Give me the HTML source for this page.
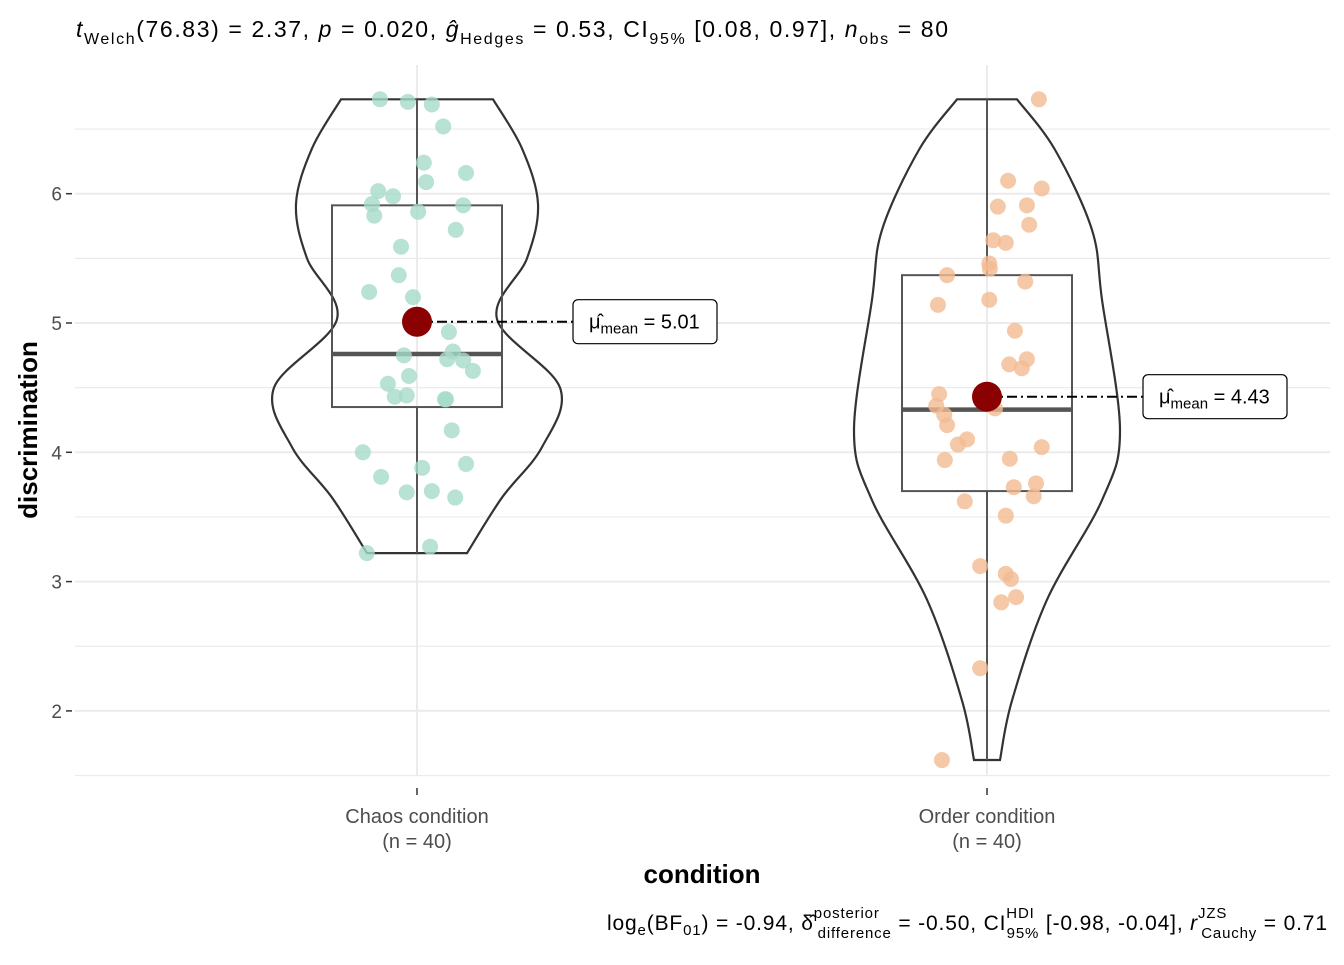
<!DOCTYPE html>
<html><head><meta charset="utf-8"><style>
body{margin:0;background:#fff;font-family:"Liberation Sans",Arial,sans-serif}
svg text{font-family:"Liberation Sans",Arial,sans-serif}
</style></head><body>
<svg id="chart" width="1344" height="960" xmlns="http://www.w3.org/2000/svg">
<text x="76" y="37" font-size="23" fill="#000" textLength="872" lengthAdjust="spacing"><tspan font-style="italic">t</tspan><tspan font-size="16" dy="7">Welch</tspan><tspan dy="-7">(76.83) = 2.37, </tspan><tspan font-style="italic">p</tspan><tspan> = 0.020, </tspan><tspan font-style="italic">ĝ</tspan><tspan font-size="16" dy="7">Hedges</tspan><tspan dy="-7"> = 0.53, CI</tspan><tspan font-size="16" dy="7">95%</tspan><tspan dy="-7"> [0.08, 0.97], </tspan><tspan font-style="italic">n</tspan><tspan font-size="16" dy="7">obs</tspan><tspan dy="-7"> = 80</tspan></text>
<g id="grid"></g>
<g id="marks"></g>
<text x="702" y="883" font-size="26" font-weight="bold" text-anchor="middle">condition</text>
<text transform="translate(37,430) rotate(-90)" font-size="26" font-weight="bold" text-anchor="middle">discrimination</text>
<text x="607" y="930" font-size="21" textLength="720" lengthAdjust="spacing">log<tspan font-size="15" dy="5">e</tspan><tspan dy="-5">(BF</tspan><tspan font-size="15" dy="5">01</tspan><tspan dy="-5">) = -0.94, δ̂</tspan><tspan font-size="15" dy="-12">posterior</tspan><tspan font-size="15" dx="-62" dy="20">difference</tspan><tspan dy="-8"> = -0.50, CI</tspan><tspan font-size="15" dy="-12">HDI</tspan><tspan font-size="15" dx="-28" dy="20">95%</tspan><tspan dy="-8"> [-0.98, -0.04], </tspan><tspan font-style="italic">r</tspan><tspan font-size="15" dy="-12">JZS</tspan><tspan font-size="15" dx="-26" dy="20">Cauchy</tspan><tspan dy="-8"> = 0.71</tspan></text>
</svg>
<script>
const categories=["Chaos condition","Order condition"];
const counts=[40,40];
const yTicks=[2,3,4,5,6];
const chaosVals=[6.73,6.71,6.69,6.52,6.24,6.09,6.16,6.02,5.98,5.92,5.86,5.91,5.83,5.72,5.59,5.37,5.24,5.20,4.93,4.78,4.75,4.72,4.71,4.63,4.59,4.53,4.44,4.43,4.41,4.41,4.17,4.00,3.91,3.81,3.88,3.70,3.69,3.65,3.27,3.22];
const chaosJit=[-0.065,-0.016,0.026,0.046,0.012,0.016,0.086,-0.068,-0.042,-0.079,0.002,0.081,-0.075,0.068,-0.028,-0.032,-0.084,-0.007,0.056,0.063,-0.023,0.053,0.081,0.098,-0.014,-0.051,-0.018,-0.039,0.049,0.051,0.061,-0.095,0.086,-0.063,0.009,0.026,-0.018,0.067,0.023,-0.088];
const orderVals=[6.73,6.10,6.04,5.90,5.91,5.64,5.62,5.76,5.46,5.42,5.37,5.32,5.18,5.14,4.94,4.72,4.68,4.65,4.45,4.36,4.34,4.29,4.21,4.10,4.06,4.04,3.94,3.95,3.73,3.76,3.66,3.62,3.51,3.12,3.06,3.02,2.88,2.84,2.33,1.62];
const orderJit=[0.091,0.037,0.096,0.019,0.070,0.011,0.033,0.074,0.004,0.005,-0.070,0.067,0.004,-0.086,0.049,0.070,0.039,0.061,-0.084,-0.089,0.014,-0.075,-0.070,-0.035,-0.051,0.096,-0.074,0.040,0.047,0.086,0.082,-0.039,0.033,-0.012,0.033,0.042,0.051,0.025,-0.012,-0.079];
const means=[5.01,4.43];
const meanLabels=["5.01","4.43"];
const q1=[4.35,3.70],med=[4.76,4.33],q3=[5.91,5.37],wLo=[3.22,1.62],wHi=[6.73,6.73];
const chaosVy=[6.73,6.35,5.92,5.50,5.03,4.50,4.04,3.65,3.22];
const chaosVw=[76,105,121,110,80,143,125,85,50];
const orderVy=[6.73,6.34,5.72,5.18,4.17,3.63,2.86,2.08,1.62];
const orderVw=[30,68,105,115,133,115,60,25,13];
const NS="http://www.w3.org/2000/svg";
const y=v=>323-(v-5)*129.3;
const x=i=>417+i*570;
const xs=(i,j)=>x(i)+j*570;
const grid=document.getElementById('grid'),marks=document.getElementById('marks');
function mk(tag,a,p){const e=document.createElementNS(NS,tag);for(const k in a)e.setAttribute(k,a[k]);(p||marks).appendChild(e);return e;}
for(let v=1.5;v<=6.5;v+=0.5){const l=mk('line',{x1:75,x2:1330,y1:y(v),y2:y(v),stroke:'#ebebeb','stroke-width':Number.isInteger(v)?2:1.2},grid);
}
categories.forEach((c,i)=>{const l=mk('line',{x1:x(i),x2:x(i),y1:65,y2:776,stroke:'#ebebeb','stroke-width':2},grid);
});
yTicks.forEach(v=>{const t=mk('text',{x:62,y:y(v)+7,'font-size':19,fill:'#4d4d4d','text-anchor':'end'},grid);t.textContent=v;

mk('line',{x1:66,x2:72,y1:y(v),y2:y(v),stroke:'#333','stroke-width':1.5},grid);});
categories.forEach((c,i)=>{mk('line',{x1:x(i),x2:x(i),y1:788,y2:795,stroke:'#333','stroke-width':1.5},grid);
const t=mk('text',{x:x(i),y:823,'font-size':20,fill:'#4d4d4d','text-anchor':'middle'},grid);t.textContent=c;

const t2=mk('text',{x:x(i),y:848,'font-size':20,fill:'#4d4d4d','text-anchor':'middle'},grid);t2.textContent='(n = '+counts[i]+')';
});
function violin(i,vy,vw){let r=[],l=[];for(let k=0;k<vy.length;k++){r.push([x(i)+vw[k],y(vy[k])]);l.push([x(i)-vw[k],y(vy[k])]);}
function curve(arr){let s='';for(let k=0;k<arr.length-1;k++){const p0=arr[k-1]||arr[k],p1=arr[k],p2=arr[k+1],p3=arr[k+2]||p2;
s+=` C${p1[0]+(p2[0]-p0[0])/6},${p1[1]+(p2[1]-p0[1])/6} ${p2[0]-(p3[0]-p1[0])/6},${p2[1]-(p3[1]-p1[1])/6} ${p2[0]},${p2[1]}`;}return s;}
let d='M'+x(i)+','+y(vy[0])+' L'+r[0].join(',')+curve(r)+' L'+l[l.length-1].join(',');
const lr=l.slice().reverse();d+=curve(lr)+' Z';
const p=mk('path',{d:d,fill:'none',stroke:'#333','stroke-width':2.2});}
violin(0,chaosVy,chaosVw);violin(1,orderVy,orderVw);
categories.forEach((c,i)=>{
mk('line',{x1:x(i),x2:x(i),y1:y(wHi[i]),y2:y(q3[i]),stroke:'#555','stroke-width':2});
mk('line',{x1:x(i),x2:x(i),y1:y(q1[i]),y2:y(wLo[i]),stroke:'#555','stroke-width':2});
const b=mk('rect',{x:x(i)-85,y:y(q3[i]),width:170,height:y(q1[i])-y(q3[i]),fill:'none',stroke:'#555','stroke-width':2});

mk('line',{x1:x(i)-85,x2:x(i)+85,y1:y(med[i]),y2:y(med[i]),stroke:'#555','stroke-width':4.5});});
[[chaosVals,chaosJit,'#a6dbc8'],[orderVals,orderJit,'#f2bc92']].forEach(([vals,jit,col],i)=>{vals.forEach((v,k)=>{
const c=mk('circle',{cx:xs(i,jit[k]),cy:y(v),r:8,fill:col,'fill-opacity':0.8});
});});
const lx=[573,1143];
means.forEach((m,i)=>{
mk('line',{x1:x(i),x2:lx[i],y1:y(m),y2:y(m),stroke:'#000','stroke-width':2,'stroke-dasharray':'10,4,2,4'});
const c=mk('circle',{cx:x(i),cy:y(m),r:15,fill:'#8b0000'});
const r=mk('rect',{x:lx[i],y:y(m)-22,width:144,height:44,rx:5,fill:'#fff',stroke:'#000','stroke-width':1.2});

const t=mk('text',{x:lx[i]+16,y:y(m)+7,'font-size':20});
t.innerHTML='μ̂<tspan font-size="15" dy="5">mean</tspan><tspan dy="-5"> = '+meanLabels[i]+'</tspan>';
});
</script>
</body></html>
